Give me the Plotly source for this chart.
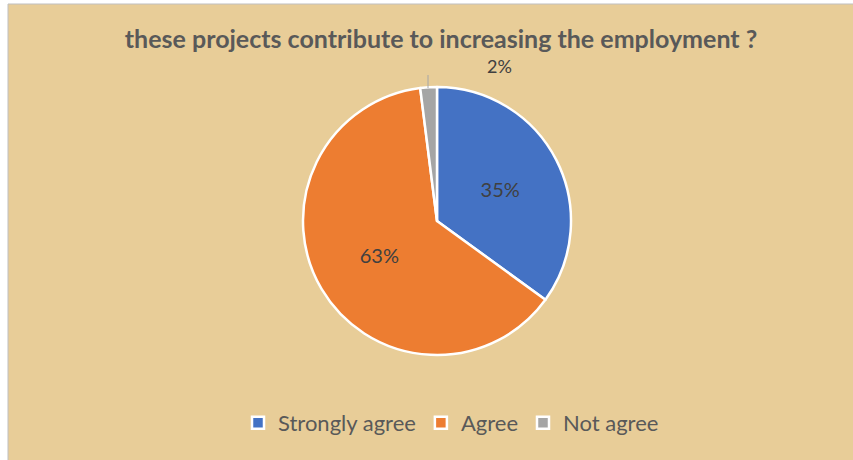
import plotly.graph_objects as go

categories = ["Strongly agree", "Agree", "Not agree"]
values = [35, 63, 2]
colors = ["#4472C4", "#ED7D31", "#A5A5A5"]
title_text = "these projects contribute to increasing the employment ?"

W, H = 853, 460
cx, cy, r = 437, 221, 134

total = sum(values)
pct_labels = [f"{round(v / total * 100)}%" for v in values]
inside_text = [t if v / total >= 0.05 else "" for t, v in zip(pct_labels, values)]

fig = go.Figure(go.Pie(
    labels=categories,
    values=values,
    sort=False,
    direction="clockwise",
    rotation=0,
    marker=dict(colors=colors, line=dict(color="white", width=2.5)),
    text=inside_text,
    textinfo="text",
    textposition="inside",
    insidetextorientation="horizontal",
    textfont=dict(family="Lato", size=20, color="#404040"),
    domain=dict(x=[(cx - r) / W, (cx + r) / W], y=[1 - (cy + r) / H, 1 - (cy - r) / H]),
    hoverinfo="label+percent",
))

# small-slice label placed outside, as in the original
small = [t for t, v in zip(pct_labels, values) if v / total < 0.05]
annotations = []
if small:
    annotations.append(dict(text=small[0], xref="paper", yref="paper",
                            x=499 / W, y=1 - 66 / H, showarrow=False,
                            xanchor="center", yanchor="middle",
                            font=dict(family="Lato", size=18, color="#404040")))

fig.update_layout(
    width=W, height=H,
    margin=dict(l=0, r=0, t=0, b=0),
    paper_bgcolor="white",
    title=dict(text="<b>" + title_text + "</b>", x=441 / W, xanchor="center",
               y=1 - 39 / H, yanchor="middle",
               font=dict(family="Lato", size=25, color="#595959")),
    showlegend=True,
    legend=dict(orientation="h", x=451 / W, xanchor="center", y=1 - 423 / H, yanchor="middle",
                font=dict(family="Lato", size=22, color="#595959"),
                bgcolor="rgba(0,0,0,0)", itemwidth=30, traceorder="normal"),
    annotations=annotations,
    shapes=[
        dict(type="rect", xref="paper", yref="paper", layer="below",
             x0=8 / W, x1=1.01, y0=-0.01, y1=1 - 4 / H,
             fillcolor="#E8CD98", line=dict(color="#BFBFBF", width=1)),
        dict(type="line", xref="paper", yref="paper", layer="above",
             x0=428 / W, x1=428 / W, y0=1 - 88 / H, y1=1 - 75 / H,
             line=dict(color="#A6A6A6", width=1)),
    ],
)

fig.write_html("out.html", config={"displayModeBar": False},
               post_script="document.body.style.margin='0';")
